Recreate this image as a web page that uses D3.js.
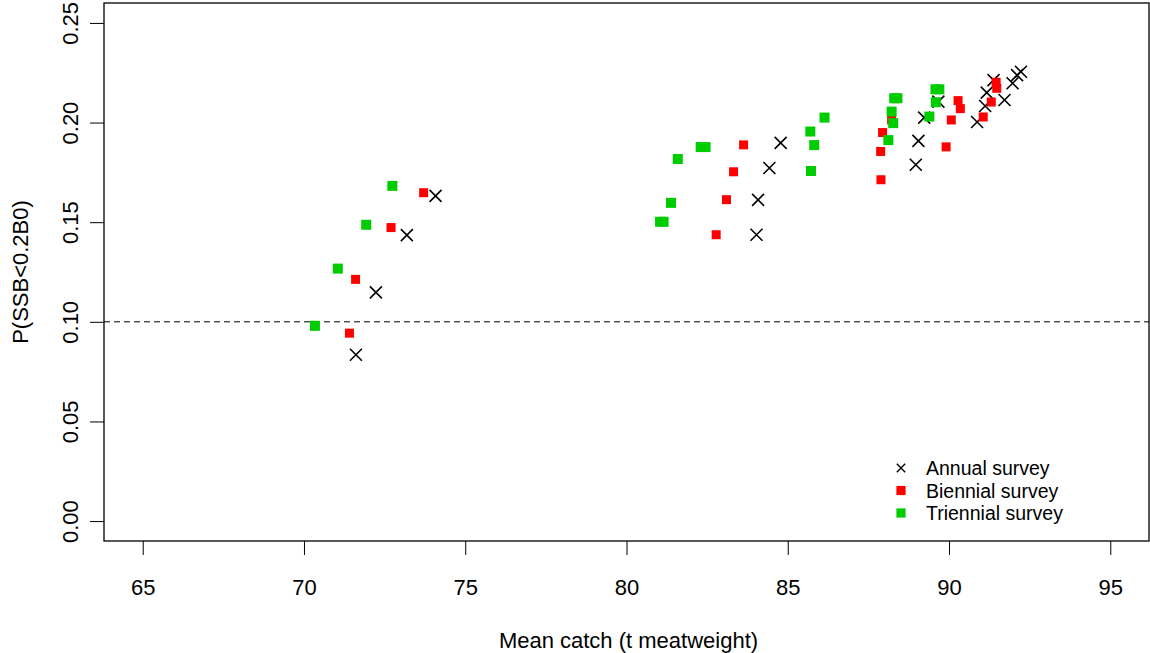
<!DOCTYPE html>
<html>
<head>
<meta charset="utf-8">
<script src="https://cdn.jsdelivr.net/npm/d3@7"></script>
<style>
  html, body { margin: 0; padding: 0; background: #fff; }
  svg { display: block; font-family: "Liberation Sans", Arial, sans-serif; }
</style>
</head>
<body>
<svg id="chart" width="1150" height="653"></svg>
<script>
// ---- data ----
const annualX = [71.61, 72.23, 73.19, 74.08, 84.03, 84.08, 84.43, 84.78, 88.97, 89.05, 89.23, 89.67, 90.87, 91.12, 91.17, 91.38, 91.72, 91.97, 92.11, 92.23];
const annualY = [0.0835, 0.1148, 0.1435, 0.1632, 0.1437, 0.1612, 0.1772, 0.1898, 0.1788, 0.1908, 0.2025, 0.2105, 0.2003, 0.2083, 0.2150, 0.2213, 0.2113, 0.2197, 0.2238, 0.2255];

const biennialX = [71.41, 71.60, 72.70, 73.71, 82.78, 83.10, 83.32, 83.63, 87.88, 87.89, 87.94, 88.22, 89.91, 90.07, 90.28, 90.35, 91.06, 91.31, 91.46, 91.48];
const biennialY = [0.0943, 0.1213, 0.1473, 0.1648, 0.1437, 0.1613, 0.1753, 0.1888, 0.1855, 0.1713, 0.1950, 0.2013, 0.1878, 0.2013, 0.2110, 0.2070, 0.2028, 0.2103, 0.2202, 0.2172];

const triennialX = [70.34, 71.05, 71.93, 72.74, 81.04, 81.15, 81.38, 81.59, 82.30, 82.45, 85.70, 85.72, 85.82, 86.14, 88.12, 88.22, 88.27, 88.30, 88.40, 89.39, 89.59, 89.58, 89.70];
const triennialY = [0.0980, 0.1267, 0.1487, 0.1682, 0.1502, 0.1502, 0.1597, 0.1817, 0.1877, 0.1877, 0.1955, 0.1757, 0.1887, 0.2025, 0.1912, 0.2055, 0.1997, 0.2122, 0.2122, 0.2030, 0.2102, 0.2167, 0.2167];

const xTicks = [65, 70, 75, 80, 85, 90, 95];
const yTicks = [0.00, 0.05, 0.10, 0.15, 0.20, 0.25];
const refLine = 0.10;
const legendLabels = ["Annual survey", "Biennial survey", "Triennial survey"];
const xTitle = "Mean catch (t meatweight)";
const yTitle = "P(SSB<0.2B0)";

// ---- layout ----
const box = { left: 104, right: 1149, top: 3, bottom: 541 };
const RED = "#FF0000", GREEN = "#00CD00";

const svg = d3.select("#chart");
const x = d3.scaleLinear().domain([65 - 1.2, 95 + 1.2]).range([box.left, box.right]);
const y = d3.scaleLinear().domain([-0.01, 0.26]).range([box.bottom, box.top]);

// axes
const xAxis = d3.axisBottom(x).tickValues(xTicks).tickSize(14).tickPadding(0).tickFormat(d3.format("d"));
const gx = svg.append("g").attr("transform", `translate(0,${box.bottom})`).call(xAxis);
gx.select(".domain").remove();
gx.selectAll("line").attr("stroke", "#000").attr("stroke-width", 1);
gx.selectAll("text").attr("font-size", 22).attr("fill", "#000")
  .attr("dy", null).attr("y", 54);

const yAxis = d3.axisLeft(y).tickValues(yTicks).tickSize(14).tickFormat(d3.format(".2f"));
const gy = svg.append("g").attr("transform", `translate(${box.left},0)`).call(yAxis);
gy.select(".domain").remove();
gy.selectAll("line").attr("stroke", "#000").attr("stroke-width", 1);
gy.selectAll("text")
  .attr("font-size", 22).attr("fill", "#000")
  .attr("x", null).attr("dy", null)
  .attr("text-anchor", "middle")
  .attr("transform", "translate(-26.5,0) rotate(-90)");

// box
svg.append("rect")
  .attr("x", box.left).attr("y", box.top)
  .attr("width", box.right - box.left).attr("height", box.bottom - box.top)
  .attr("fill", "none").attr("stroke", "#000").attr("stroke-width", 1.3);

// reference line
svg.append("line")
  .attr("x1", box.left).attr("x2", box.right)
  .attr("y1", y(refLine)).attr("y2", y(refLine))
  .attr("stroke", "#000").attr("stroke-width", 1).attr("stroke-dasharray", "6,4");

// titles
svg.append("text").attr("x", (box.left + box.right) / 2 + 2).attr("y", 648)
  .attr("text-anchor", "middle").attr("font-size", 22).text(xTitle);
svg.append("text")
  .attr("transform", `translate(28,${(box.top + box.bottom) / 2}) rotate(-90)`)
  .attr("text-anchor", "middle").attr("font-size", 22).text(yTitle);

// points
const crossPath = (s) => `M${-s},${-s}L${s},${s}M${-s},${s}L${s},${-s}`;

svg.append("g").selectAll("path")
  .data(d3.zip(annualX, annualY)).join("path")
  .attr("transform", d => `translate(${x(d[0])},${y(d[1])})`)
  .attr("d", crossPath(6))
  .attr("stroke", "#000").attr("stroke-width", 1.6).attr("fill", "none");

svg.append("g").selectAll("rect")
  .data(d3.zip(biennialX, biennialY)).join("rect")
  .attr("x", d => x(d[0]) - 4.5).attr("y", d => y(d[1]) - 4.5)
  .attr("width", 9).attr("height", 9).attr("fill", RED);

svg.append("g").selectAll("rect")
  .data(d3.zip(triennialX, triennialY)).join("rect")
  .attr("x", d => x(d[0]) - 5).attr("y", d => y(d[1]) - 5)
  .attr("width", 10).attr("height", 10).attr("fill", GREEN);

// legend
const leg = svg.append("g").attr("transform", "translate(901,0)");
const rows = [468, 490.5, 513];
leg.append("path").attr("transform", `translate(0,${rows[0]})`)
  .attr("d", crossPath(4.2)).attr("stroke", "#000").attr("stroke-width", 1.4).attr("fill", "none");
leg.append("rect").attr("x", -4.6).attr("y", rows[1] - 4.6).attr("width", 9.2).attr("height", 9.2).attr("fill", RED);
leg.append("rect").attr("x", -4.6).attr("y", rows[2] - 4.6).attr("width", 9.2).attr("height", 9.2).attr("fill", GREEN);
leg.selectAll("text.l").data(legendLabels).join("text")
  .attr("x", 25).attr("y", (d, i) => rows[i] + 7)
  .attr("font-size", 19.5).text(d => d);
</script>
</body>
</html>
